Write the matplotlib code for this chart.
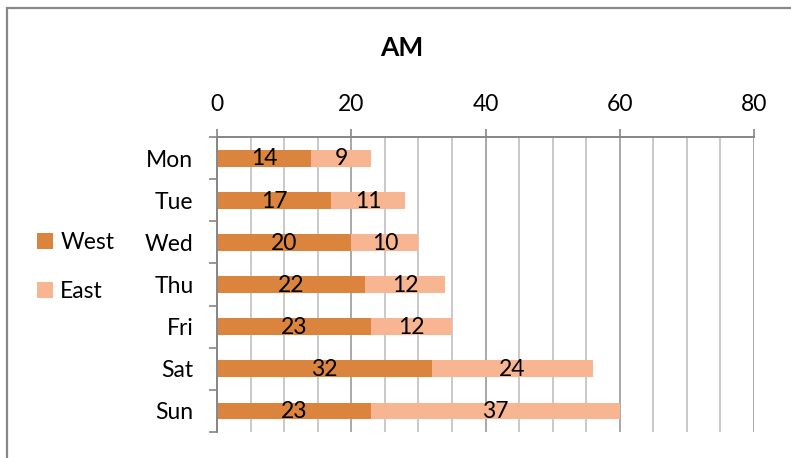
import numpy as np
import matplotlib.pyplot as plt
from matplotlib.patches import Rectangle

days = ['Mon', 'Tue', 'Wed', 'Thu', 'Fri', 'Sat', 'Sun']
west = [14, 17, 20, 22, 23, 32, 23]
east = [9, 11, 10, 12, 12, 24, 37]
x_ticks = [0, 20, 40, 60, 80]

WEST_C = '#DA843E'
EAST_C = '#F8B591'
AXIS_C = '#868686'
GRID_C = '#C0C0C0'

plt.rcParams['font.family'] = ['Lato', 'DejaVu Sans']

fig = plt.figure(figsize=(7.91, 4.58), dpi=100)
ax = fig.add_axes([217/791, 1 - 432/458, 537/791, 295/458])

y = np.arange(len(days))
b1 = ax.barh(y, west, height=0.4, color=WEST_C, label='West')
b2 = ax.barh(y, east, left=west, height=0.4, color=EAST_C, label='East')

# value labels centred in each segment
for bars, vals in ((b1, west), (b2, east)):
    for r, v in zip(bars, vals):
        ax.text(r.get_x() + r.get_width() / 2, r.get_y() + r.get_height() / 2 + 0.02,
                str(v), ha='center', va='center', fontsize=16.5, color='black')

ax.set_xlim(0, 80)
ax.set_ylim(len(days) - 0.5, -0.5)

ax.xaxis.tick_top()
ax.set_xticks(x_ticks)
ax.set_xticks(np.arange(0, 81, 5), minor=True)
ax.tick_params(axis='x', which='major', direction='out', length=6, width=1.2,
               color=AXIS_C, labelsize=16.5, pad=10)
ax.tick_params(axis='x', which='minor', length=0)

ax.set_yticks(y)
ax.set_yticklabels(days)
ax.set_yticks(np.arange(-0.5, len(days), 1), minor=True)
ax.tick_params(axis='y', which='major', length=0, labelsize=16.5, pad=17)
ax.tick_params(axis='y', which='minor', direction='out', length=6, width=1.2, color=AXIS_C)

ax.grid(axis='x', which='minor', color=GRID_C, linewidth=1.2)
ax.grid(axis='x', which='major', color='#9A9A9A', linewidth=1.2)
ax.set_axisbelow(True)

for s in ('right', 'bottom'):
    ax.spines[s].set_visible(False)
for s in ('top', 'left'):
    ax.spines[s].set_color(AXIS_C)
    ax.spines[s].set_linewidth(1.4)

fig.text(402/791, 1 - 48/458, 'AM', ha='center', va='center', fontsize=19, fontweight='bold')

fig.legend(handles=[b1, b2], loc='center left', bbox_to_anchor=(26/791, 1 - 267/458),
           frameon=False, fontsize=16.5, handlelength=0.7, handleheight=0.7,
           handletextpad=0.3, labelspacing=1.22, borderpad=0)

# chart frame (only left and top edges fall inside the image)
fig.patches.append(Rectangle((7/791, -0.1), 1.2, 1 - 8/458 + 0.1, transform=fig.transFigure,
                             fill=False, edgecolor='#888888', linewidth=1.6))

fig.savefig('out.png', dpi=100)
